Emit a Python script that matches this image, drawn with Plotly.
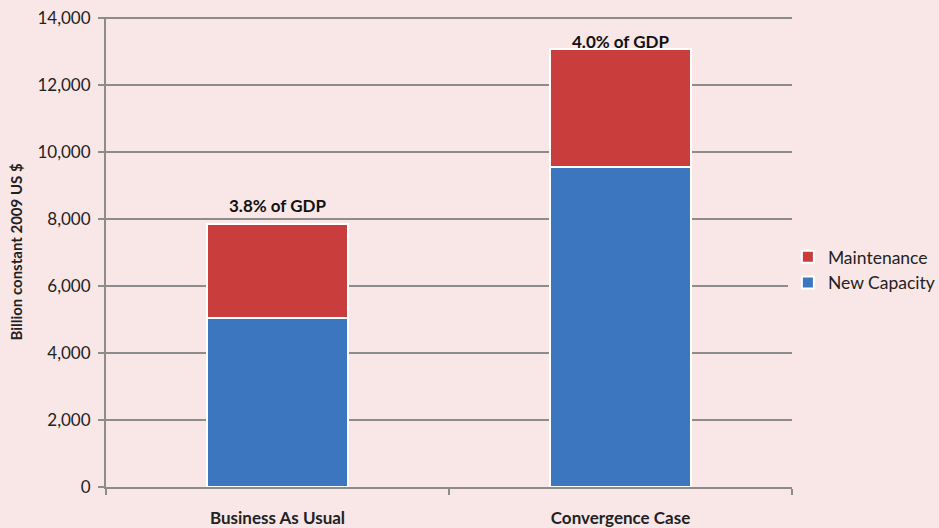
import plotly.graph_objects as go

categories = ["Business As Usual", "Convergence Case"]
new_capacity = [5040, 9550]
maintenance = [2810, 3540]
gdp_labels = ["3.8% of GDP", "4.0% of GDP"]
label_shift = [6, -5]
y_ticks = [0, 2000, 4000, 6000, 8000, 10000, 12000, 14000]

totals = [a + b for a, b in zip(new_capacity, maintenance)]

fig = go.Figure()
fig.add_trace(go.Bar(
    x=categories, y=new_capacity, name="New Capacity", legendgroup="n",
    marker=dict(color="#3B76BE", line=dict(color="white", width=2)),
    width=0.41,
))
fig.add_trace(go.Bar(
    x=categories, y=maintenance, name="Maintenance", legendgroup="m",
    marker=dict(color="#C93E3C", line=dict(color="white", width=2)),
    width=0.41,
))

for c, t, lab, s in zip(categories, totals, gdp_labels, label_shift):
    fig.add_annotation(x=c, y=t, text="<b>" + lab + "</b>", showarrow=False,
                       yanchor="bottom", yshift=s,
                       font=dict(family="Lato, sans-serif", size=17, color="#111"))

fig.update_layout(
    barmode="stack",
    width=939, height=528,
    margin=dict(l=106, r=147, t=17, b=41, autoexpand=False),
    paper_bgcolor="#F9E7E7",
    plot_bgcolor="#F9E7E7",
    font=dict(family="Lato, sans-serif", size=17, color="#222"),
    legend=dict(x=0.994, y=0.462, xanchor="left", yanchor="middle",
                font=dict(size=17.5), itemwidth=30, tracegroupgap=10,
                traceorder="reversed"),
    yaxis=dict(
        range=[0, 14040], tickvals=y_ticks, tickformat=",",
        showgrid=True, gridcolor="#8C8C8C", gridwidth=2,
        showline=True, linecolor="#8C8C8C", linewidth=2,
        ticks="outside", tickcolor="#8C8C8C", ticklen=6, tickwidth=2,
        ticklabelstandoff=4, ticklabeloverflow="allow",
        zeroline=False, automargin=False,
        title=dict(text="<b>Billion constant 2009 US $</b>", font=dict(size=15), standoff=11),
        tickfont=dict(size=17),
    ),
    xaxis=dict(
        showline=True, linecolor="#8C8C8C", linewidth=2,
        ticks="outside", tickson="boundaries", tickcolor="#8C8C8C", ticklen=6, tickwidth=2,
        ticklabelstandoff=15,
        tickfont=dict(size=17), automargin=False,
        tickvals=categories, ticktext=["<b>" + c + "</b>" for c in categories],
    ),
    showlegend=True,
)

fig.write_html("out.html",
               config={"displayModeBar": False},
               post_script="document.body.style.margin='0';document.body.style.overflow='hidden';")
